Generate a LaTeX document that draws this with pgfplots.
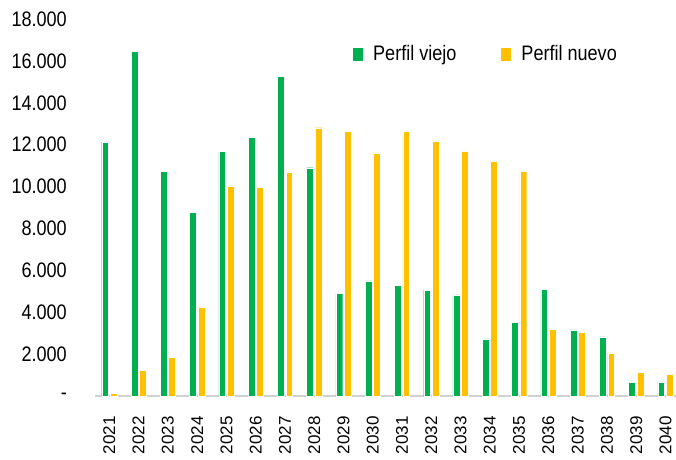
\documentclass[border=0pt]{standalone}
\usepackage{fontspec}
\setmainfont[FakeStretch=0.86]{Liberation Sans}
\newfontfamily\xfont{Liberation Sans}
\usepackage{pgfplots}
\pgfplotsset{compat=1.18}
\definecolor{cgreen}{RGB}{0,176,80}
\definecolor{cyellow}{RGB}{255,192,0}
\begin{document}
\begin{tikzpicture}
\begin{axis}[
  at={(95pt,63pt)}, anchor=south west,
  scale only axis, width=581pt, height=377pt,
  xmin=-0.49, xmax=19.36, ymin=0, ymax=18000,
  axis lines*=left,
  y axis line style={draw=none},
  x axis line style={draw=black!18, line width=1.2pt},
  major tick length=0pt,
  scaled y ticks=false,
  xtick={0,...,19},
  xticklabels={2021,2022,2023,2024,2025,2026,2027,2028,2029,2030,2031,2032,2033,2034,2035,2036,2037,2038,2039,2040},
  xticklabel style={rotate=90, anchor=east, inner sep=0pt, xshift=-20pt, font=\xfont\fontsize{17}{19}\selectfont},
  ytick={0,2000,4000,6000,8000,10000,12000,14000,16000,18000},
  yticklabels={-,2.000,4.000,6.000,8.000,10.000,12.000,14.000,16.000,18.000},
  yticklabel style={anchor=east, inner sep=0pt, xshift=-28pt, font=\fontsize{21}{24}\selectfont},
  /pgf/number format/assume math mode=true,
  legend columns=2,
  legend style={at={(0.444,0.907)}, anchor=west, draw=none, fill=none, inner sep=0pt,
    font=\fontsize{21}{24}\selectfont,
    nodes={inner sep=0pt},
    /tikz/every odd column/.append style={column sep=10pt},
    /tikz/every even column/.append style={column sep=45pt}},
  legend image code/.code={\fill[#1,draw=none] (0pt,-6.5pt) rectangle (10pt,6.5pt);},
]
\addplot[ybar, bar width=6.8pt, bar shift=-4.2pt, fill=cgreen, draw=white, line width=0.4pt]
coordinates {(0,12105) (1,16460) (2,10720) (3,8760) (4,11670) (5,12340) (6,15260) (7,10900) (8,4914) (9,5502) (10,5278) (11,5056) (12,4832) (13,2727) (14,3525) (15,5103) (16,3158) (17,2823) (18,655) (19,655)};
\addlegendentry{Perfil viejo}
\addplot[ybar, bar width=6.8pt, bar shift=4.2pt, fill=cyellow, draw=white, line width=0.4pt]
coordinates {(0,140) (1,1228) (2,1850) (3,4258) (4,10014) (5,9967) (6,10700) (7,12808) (8,12648) (9,11611) (10,12663) (11,12185) (12,11707) (13,11211) (14,10750) (15,3174) (16,3062) (17,2057) (18,1134) (19,1053)};
\addlegendentry{Perfil nuevo}
\end{axis}
\pgfresetboundingbox
\useasboundingbox (0,0) rectangle (676pt,459pt);
\end{tikzpicture}
\end{document}
